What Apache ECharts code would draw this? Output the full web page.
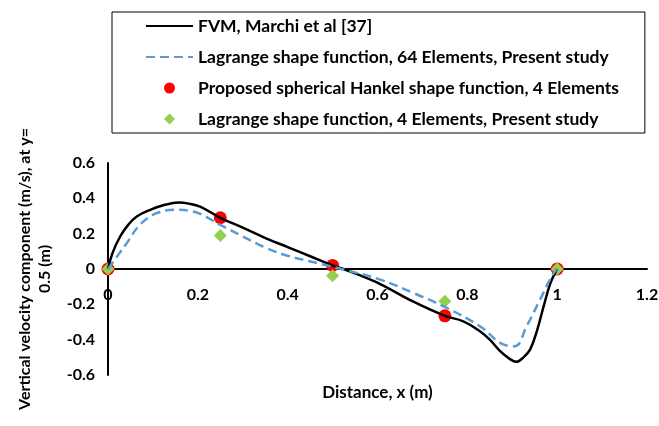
<!DOCTYPE html>
<html>
<head>
<meta charset="utf-8">
<script src="https://cdn.jsdelivr.net/npm/echarts@6/dist/echarts.min.js"></script>
<style>html,body{margin:0;padding:0;background:#fff}#c{width:659px;height:426px}</style>
</head>
<body>
<div id="c"></div>
<script>
const seriesNames = [
  'FVM, Marchi et al [37]',
  'Lagrange shape function, 64 Elements, Present study',
  'Proposed spherical Hankel shape function, 4 Elements',
  'Lagrange shape function, 4 Elements, Present study'
];
const fvmX = [0, 0.01, 0.027, 0.045, 0.064, 0.094, 0.125, 0.157, 0.18, 0.205, 0.25, 0.3, 0.353, 0.4, 0.45, 0.5, 0.524, 0.55, 0.606, 0.68, 0.75, 0.791, 0.828, 0.85, 0.873, 0.895, 0.909, 0.925, 0.94, 0.955, 0.97, 0.985, 1];
const fvmY = [0, 0.09, 0.184, 0.25, 0.297, 0.335, 0.362, 0.376, 0.37, 0.353, 0.29, 0.234, 0.172, 0.124, 0.072, 0.02, 0, -0.025, -0.085, -0.185, -0.265, -0.296, -0.352, -0.4, -0.465, -0.51, -0.525, -0.5, -0.455, -0.35, -0.21, -0.08, 0];
const lag64X = [0, 0.02, 0.042, 0.071, 0.108, 0.149, 0.19, 0.25, 0.3, 0.353, 0.4, 0.465, 0.52, 0.606, 0.68, 0.754, 0.828, 0.88, 0.906, 0.932, 0.962, 0.988, 1];
const lag64Y = [0, 0.07, 0.147, 0.25, 0.316, 0.335, 0.325, 0.25, 0.184, 0.118, 0.075, 0.034, 0, -0.06, -0.136, -0.22, -0.324, -0.427, -0.437, -0.324, -0.173, -0.04, 0];
const elemX = [0, 0.25, 0.5, 0.75, 1];
const hankelY = [0, 0.29, 0.02, -0.265, 0];
const lag4Y = [0, 0.19, -0.038, -0.183, 0];
const xTicks = {min: 0, max: 1.2, interval: 0.2};
const yTicks = {min: -0.6, max: 0.6, interval: 0.2};

const zip = (xs, ys) => xs.map((x, i) => [x, ys[i]]);
const font = 'Lato, "Open Sans", sans-serif';
const gridTop = 163, gridBottom = 51, H = 426;
const gridH = H - gridTop - gridBottom;
// place the x axis (line, labels, name) at y = 0
const zeroOffset = -gridH * (0 - yTicks.min) / (yTicks.max - yTicks.min);
const chart = echarts.init(document.getElementById('c'), null, {renderer: 'canvas'});
chart.setOption({
  animation: false,
  textStyle: {fontFamily: font},
  grid: {left: 108, right: 12, top: gridTop, bottom: gridBottom, containLabel: false, outerBoundsMode: 'none'},
  legend: {
    orient: 'vertical', left: 112, top: 12,
    padding: [5, 26, 5, 33],
    borderColor: '#000', borderWidth: 1,
    itemWidth: 47, itemHeight: 11, itemGap: 13,
    textStyle: {fontFamily: font, fontWeight: 'bold', fontSize: 17.5, color: '#000'},
    data: [
      {name: seriesNames[0], itemStyle: {opacity: 0}},
      {name: seriesNames[1], itemStyle: {opacity: 0}},
      {name: seriesNames[2], icon: 'circle'},
      {name: seriesNames[3], icon: 'path://M0,5 L5,0 L10,5 L5,10 Z', itemStyle: {color: '#92D050'}}
    ]
  },
  xAxis: {
    type: 'value', min: xTicks.min, max: xTicks.max, interval: xTicks.interval,
    offset: zeroOffset,
    name: 'Distance, x (m)', nameLocation: 'middle', nameGap: 115,
    nameTextStyle: {fontFamily: font, fontWeight: 'bold', fontSize: 17, color: '#000', verticalAlign: 'top'},
    axisLine: {onZero: false, lineStyle: {color: '#000', width: 2}},
    axisTick: {show: false},
    splitLine: {show: false},
    axisLabel: {margin: 18, fontFamily: font, fontWeight: 'bold', fontSize: 16, color: '#000'}
  },
  yAxis: {
    type: 'value', min: yTicks.min, max: yTicks.max, interval: yTicks.interval,
    name: 'Vertical velocity component (m/s), at y=\n0.5 (m)', nameLocation: 'middle', nameGap: 53,
    nameRotate: 90,
    nameTextStyle: {fontFamily: font, fontWeight: 'bold', fontSize: 16, color: '#000', lineHeight: 20, align: 'center'},
    axisLine: {show: true, lineStyle: {color: '#000', width: 2}},
    axisTick: {show: false},
    splitLine: {show: false},
    axisLabel: {margin: 13, fontFamily: font, fontWeight: 'bold', fontSize: 16, color: '#000'}
  },
  series: [
    {name: seriesNames[0], type: 'line', data: zip(fvmX, fvmY), smooth: 0.4, symbol: 'none',
     lineStyle: {color: '#000', width: 2.5}, itemStyle: {color: '#000'}},
    {name: seriesNames[1], type: 'line', data: zip(lag64X, lag64Y), smooth: 0.4, symbol: 'none',
     lineStyle: {color: '#5B9BD5', width: 2.5, type: [9, 5]}, itemStyle: {color: '#5B9BD5'}},
    {name: seriesNames[2], type: 'scatter', data: zip(elemX, hankelY), symbol: 'circle', symbolSize: 13,
     itemStyle: {color: '#FF0000', opacity: 1}},
    {name: seriesNames[3], type: 'scatter', data: zip(elemX, lag4Y), symbol: 'diamond', symbolSize: 13,
     itemStyle: {color: '#92D050', opacity: 1}}
  ]
});
</script>
</body>
</html>
